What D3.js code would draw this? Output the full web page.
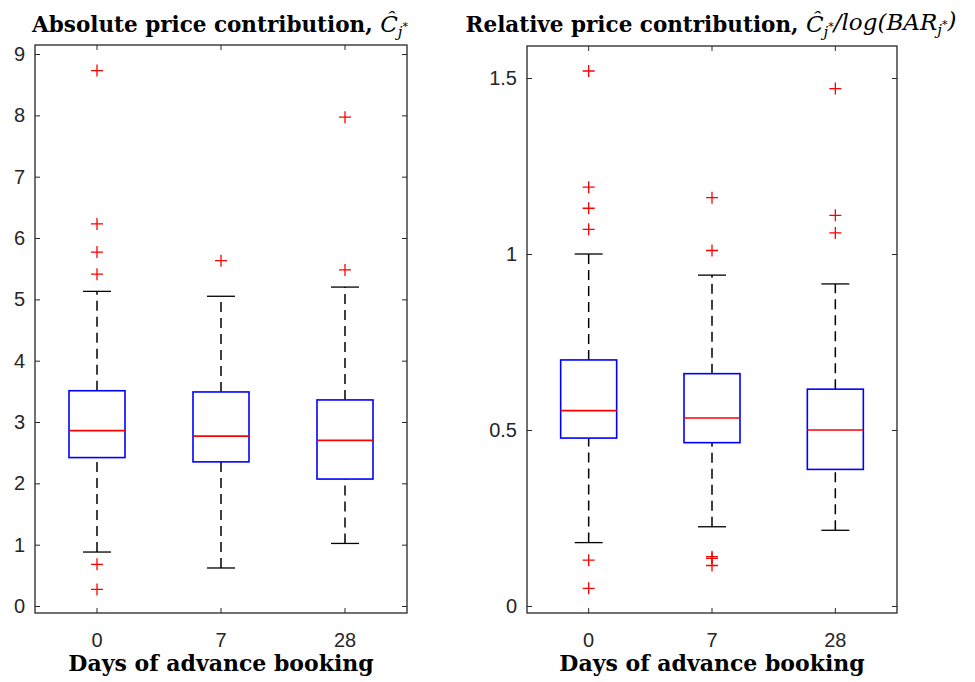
<!DOCTYPE html>
<html>
<head>
<meta charset="utf-8">
<title>Price contribution boxplots</title>
<style>
  body { margin: 0; background: #fff; }
  svg text { fill: #262626; }
  .tick-label { font-family: "Liberation Sans", Arial, sans-serif; font-size: 20px; }
  .title, .xlabel { font-family: "DejaVu Serif", "Liberation Serif", serif; font-weight: bold; fill: #000; }
  .math { font-family: "DejaVu Serif", serif; font-weight: normal; font-style: italic; }
</style>
<script src="https://cdn.jsdelivr.net/npm/d3@7"></script>
</head>
<body>
<div id="chart"></div>
<script>
// categories (days of advance booking)
var categories = ["0", "7", "28"];

// absolute price contribution
var absLow = [0.88, 0.62, 1.02];
var absQ1 = [2.42, 2.35, 2.07];
var absMedian = [2.86, 2.77, 2.70];
var absQ3 = [3.51, 3.49, 3.36];
var absHigh = [5.13, 5.05, 5.20];
var absOutliers = [[8.73, 6.23, 5.77, 5.41, 0.68, 0.27], [5.63], [7.97, 5.48]];
var absTicks = [0, 1, 2, 3, 4, 5, 6, 7, 8, 9];

// relative price contribution
var relLow = [0.18, 0.225, 0.215];
var relQ1 = [0.477, 0.464, 0.388];
var relMedian = [0.555, 0.534, 0.50];
var relQ3 = [0.699, 0.66, 0.616];
var relHigh = [1.0, 0.94, 0.915];
var relOutliers = [[1.52, 1.19, 1.13, 1.07, 0.13, 0.05], [1.16, 1.01, 0.14, 0.135, 0.115], [1.47, 1.11, 1.06]];
var relTicks = [0, 0.5, 1, 1.5];

var svg = d3.select("#chart").append("svg")
    .attr("width", 975)
    .attr("height", 682);

function drawPanel(opt) {
    var x = d3.scaleBand()
        .domain(categories)
        .range([opt.left, opt.right]);
    var y = d3.scaleLinear()
        .domain(opt.domain)
        .range([opt.bottom, opt.top]);
    var g = svg.append("g");
    var boxW = 56, capW = 28;

    // axes box with inward ticks on all sides
    g.append("g")
        .attr("transform", "translate(" + opt.left + ",0)")
        .call(d3.axisLeft(y).tickValues(opt.ticks).tickSize(-5).tickPadding(10).tickFormat(d3.format("")))
        .call(function(a) {
            a.select(".domain").remove();
            a.selectAll("text").attr("class", "tick-label").attr("fill", "#262626");
            a.selectAll("line").attr("stroke", "#262626");
        });
    g.append("g")
        .attr("transform", "translate(" + opt.right + ",0)")
        .call(d3.axisRight(y).tickValues(opt.ticks).tickSize(-5).tickFormat(""))
        .call(function(a) { a.select(".domain").remove(); a.selectAll("line").attr("stroke", "#262626"); });
    g.append("g")
        .attr("transform", "translate(0," + opt.bottom + ")")
        .call(d3.axisBottom(x).tickSize(-5).tickPadding(20))
        .call(function(a) {
            a.select(".domain").remove();
            a.selectAll("text").attr("class", "tick-label").attr("fill", "#262626");
            a.selectAll("line").attr("stroke", "#262626");
        });
    g.append("g")
        .attr("transform", "translate(0," + opt.top + ")")
        .call(d3.axisTop(x).tickSize(-5).tickFormat(""))
        .call(function(a) { a.select(".domain").remove(); a.selectAll("line").attr("stroke", "#262626"); });
    g.append("rect")
        .attr("x", opt.left).attr("y", opt.top)
        .attr("width", opt.right - opt.left).attr("height", opt.bottom - opt.top)
        .attr("fill", "none").attr("stroke", "#262626").attr("stroke-width", 1.3);

    categories.forEach(function(c, i) {
        var cx = x(c) + x.bandwidth() / 2;
        // whiskers
        [[opt.low[i], opt.q1[i]], [opt.q3[i], opt.high[i]]].forEach(function(w) {
            g.append("line")
                .attr("x1", cx).attr("x2", cx)
                .attr("y1", y(w[0])).attr("y2", y(w[1]))
                .attr("stroke", "#000").attr("stroke-width", 1.5)
                .attr("stroke-dasharray", "10,6");
        });
        [opt.low[i], opt.high[i]].forEach(function(v) {
            g.append("line")
                .attr("x1", cx - capW / 2).attr("x2", cx + capW / 2)
                .attr("y1", y(v)).attr("y2", y(v))
                .attr("stroke", "#000").attr("stroke-width", 1.3);
        });
        // box
        g.append("rect")
            .attr("x", cx - boxW / 2).attr("width", boxW)
            .attr("y", y(opt.q3[i])).attr("height", y(opt.q1[i]) - y(opt.q3[i]))
            .attr("fill", "none").attr("stroke", "#0000ff").attr("stroke-width", 1.6);
        g.append("line")
            .attr("x1", cx - boxW / 2).attr("x2", cx + boxW / 2)
            .attr("y1", y(opt.median[i])).attr("y2", y(opt.median[i]))
            .attr("stroke", "#ff0000").attr("stroke-width", 1.6);
        // outliers
        g.selectAll(null)
            .data(opt.outliers[i])
            .enter().append("path")
            .attr("d", function(d) {
                var py = y(d);
                return "M" + (cx - 6) + "," + py + "H" + (cx + 6) + "M" + cx + "," + (py - 6) + "V" + (py + 6);
            })
            .attr("stroke", "#ff0000").attr("stroke-width", 1.3).attr("fill", "none");
    });

    // x label
    g.append("text")
        .attr("class", "xlabel")
        .attr("x", (opt.left + opt.right) / 2)
        .attr("y", 671)
        .attr("text-anchor", "middle")
        .attr("font-size", 22)
        .text("Days of advance booking");

    // title
    var t = g.append("text")
        .attr("class", "title")
        .attr("x", opt.titleX)
        .attr("y", 32)
        .attr("text-anchor", "middle")
        .attr("font-size", 21.5);
    opt.title(t);
}

function subStar(t) {
    t.append("tspan").attr("class", "math").attr("font-size", 15).attr("dy", 5).text("j");
    t.append("tspan").attr("class", "math").attr("font-style", "normal").attr("font-size", 11).attr("dy", -7).text("*");
    t.append("tspan").attr("class", "math").attr("font-size", 23).attr("dy", 2).text("");
}

drawPanel({
    left: 35, right: 407, top: 45, bottom: 613, titleX: 220,
    domain: [-0.114, 9.147], ticks: absTicks,
    low: absLow, q1: absQ1, median: absMedian, q3: absQ3, high: absHigh, outliers: absOutliers,
    title: function(t) {
        t.append("tspan").text("Absolute price contribution, ");
        t.append("tspan").attr("class", "math").attr("font-size", 23).text("\u0108");
        subStar(t);
    }
});

drawPanel({
    left: 527, right: 897, top: 46, bottom: 613, titleX: 711,
    domain: [-0.02, 1.591], ticks: relTicks,
    low: relLow, q1: relQ1, median: relMedian, q3: relQ3, high: relHigh, outliers: relOutliers,
    title: function(t) {
        t.append("tspan").text("Relative price contribution, ");
        t.append("tspan").attr("class", "math").attr("font-size", 23).text("\u0108");
        subStar(t);
        t.append("tspan").attr("class", "math").attr("font-size", 23).text("/log(BAR");
        subStar(t);
        t.append("tspan").attr("class", "math").attr("font-style", "normal").attr("font-size", 23).text(")");
    }
});
</script>
</body>
</html>
